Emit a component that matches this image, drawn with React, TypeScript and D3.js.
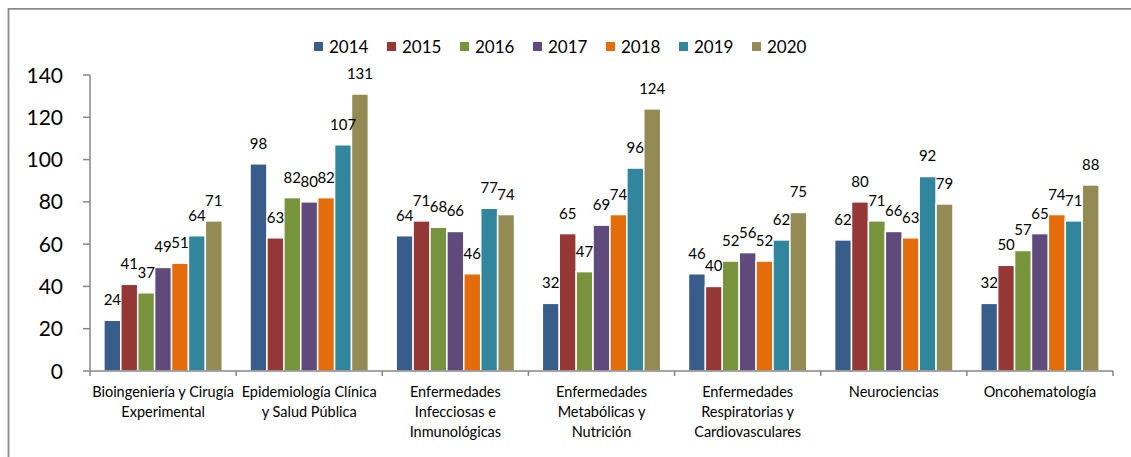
import React, {useEffect, useRef} from 'react'
import * as d3 from 'd3'

const W = 1131
const H = 457
const margin = {top: 75, right: 18, bottom: 86, left: 90}
const font = 'Lato, "Open Sans", sans-serif'

const years = ['2014', '2015', '2016', '2017', '2018', '2019', '2020']
const colors = ['#385D8A', '#953735', '#77933C', '#604A7B', '#E46C0A', '#31859C', '#948A54']
const categories = [
  'Bioingeniería y Cirugía\nExperimental',
  'Epidemiología Clínica\ny Salud Pública',
  'Enfermedades\nInfecciosas e\nInmunológicas',
  'Enfermedades\nMetabólicas y\nNutrición',
  'Enfermedades\nRespiratorias y\nCardiovasculares',
  'Neurociencias',
  'Oncohematología',
]
// one array per year, one value per category
const v2014 = [24, 98, 64, 32, 46, 62, 32]
const v2015 = [41, 63, 71, 65, 40, 80, 50]
const v2016 = [37, 82, 68, 47, 52, 71, 57]
const v2017 = [49, 80, 66, 69, 56, 66, 65]
const v2018 = [51, 82, 46, 74, 52, 63, 74]
const v2019 = [64, 107, 77, 96, 62, 92, 71]
const v2020 = [71, 131, 74, 124, 75, 79, 88]
const yTicks = [0, 20, 40, 60, 80, 100, 120, 140]

const series = [v2014, v2015, v2016, v2017, v2018, v2019, v2020]

function App() {
  const ref = useRef<SVGSVGElement>(null)

  useEffect(() => {
    const svg = d3.select(ref.current)
    svg.selectAll('*').remove()

    const x0 = d3.scaleBand<number>()
      .domain(d3.range(categories.length))
      .range([margin.left, W - margin.right])
      .paddingInner(0.19)
      .paddingOuter(0.095)
    const x1 = d3.scaleBand<number>()
      .domain(d3.range(years.length))
      .range([0, x0.bandwidth()])
    const y = d3.scaleLinear().domain([0, 140]).range([H - margin.bottom, margin.top])
    const step = x0.step()
    const axisColor = '#868686'

    // chart frame
    svg.append('path')
      .attr('d', `M8.5,${H + 5}V8.8H${W + 5}`)
      .attr('fill', 'none')
      .attr('stroke', '#8c8c8c')
      .attr('stroke-width', 1.8)

    // bars
    const groups = svg.selectAll('g.cat')
      .data(categories)
      .enter()
      .append('g')
      .attr('transform', (d, i) => `translate(${x0(i)},0)`)

    groups.selectAll('rect')
      .data((d, i) => series.map((s, k) => ({k, v: s[i]})))
      .enter()
      .append('rect')
      .attr('x', d => x1(d.k)!)
      .attr('y', d => y(d.v))
      .attr('width', x1.bandwidth())
      .attr('height', d => y(0) - y(d.v))
      .attr('fill', d => colors[d.k])
      .attr('stroke', 'white')
      .attr('stroke-width', 1.5)

    groups.selectAll('text')
      .data((d, i) => series.map((s, k) => ({k, v: s[i]})))
      .enter()
      .append('text')
      .attr('x', d => x1(d.k)! + x1.bandwidth() / 2)
      .attr('y', d => y(d.v) - 15)
      .attr('text-anchor', 'middle')
      .attr('font-family', font)
      .attr('font-size', 15)
      .attr('fill', '#000')
      .text(d => d.v)

    // y axis
    const yAxis = svg.append('g')
    yAxis.append('line')
      .attr('x1', margin.left).attr('x2', margin.left)
      .attr('y1', y(140)).attr('y2', y(0))
      .attr('stroke', axisColor).attr('stroke-width', 1.5)
    yAxis.selectAll('line.tick')
      .data(yTicks)
      .enter()
      .append('line')
      .attr('class', 'tick')
      .attr('x1', margin.left - 7).attr('x2', margin.left)
      .attr('y1', d => y(d)).attr('y2', d => y(d))
      .attr('stroke', axisColor).attr('stroke-width', 1.5)
    yAxis.selectAll('text')
      .data(yTicks)
      .enter()
      .append('text')
      .attr('x', margin.left - 27)
      .attr('y', d => y(d))
      .attr('dy', '0.36em')
      .attr('text-anchor', 'end')
      .attr('font-family', font)
      .attr('font-size', 21)
      .attr('fill', '#000')
      .text(d => d)

    // x axis
    const xAxis = svg.append('g')
    xAxis.append('line')
      .attr('x1', margin.left).attr('x2', W - margin.right)
      .attr('y1', y(0)).attr('y2', y(0))
      .attr('stroke', axisColor).attr('stroke-width', 1.5)
    xAxis.selectAll('line.tick')
      .data(d3.range(categories.length + 1))
      .enter()
      .append('line')
      .attr('class', 'tick')
      .attr('x1', i => margin.left + i * step).attr('x2', i => margin.left + i * step)
      .attr('y1', y(0)).attr('y2', y(0) + 5)
      .attr('stroke', axisColor).attr('stroke-width', 1.5)
    const catLabels = xAxis.selectAll('text')
      .data(categories)
      .enter()
      .append('text')
      .attr('text-anchor', 'middle')
      .attr('font-family', font)
      .attr('font-size', 14.5)
      .attr('fill', '#000')
    catLabels.selectAll('tspan')
      .data((d, i) => d.split('\n').map(t => ({t, i})))
      .enter()
      .append('tspan')
      .attr('x', d => x0(d.i)! + x0.bandwidth() / 2)
      .attr('y', (d, j) => y(0) + 26 + j * 20)
      .text(d => d.t)

    // legend
    const legend = svg.append('g')
    const lx = d3.scalePoint<number>().domain(d3.range(years.length)).range([314, 752])
    const items = legend.selectAll('g')
      .data(years)
      .enter()
      .append('g')
      .attr('transform', (d, i) => `translate(${lx(i)},42)`)
    items.append('rect')
      .attr('width', 9).attr('height', 9)
      .attr('fill', (d, i) => colors[i])
    items.append('text')
      .attr('x', 15)
      .attr('y', 4.5)
      .attr('dy', '0.36em')
      .attr('font-family', font)
      .attr('font-size', 17)
      .attr('fill', '#000')
      .text(d => d)
  }, [])

  return (
    <svg ref={ref} width={W} height={H}
      style={{position: 'absolute', left: 0, top: 0, background: 'white'}} />
  )
}

export default App
